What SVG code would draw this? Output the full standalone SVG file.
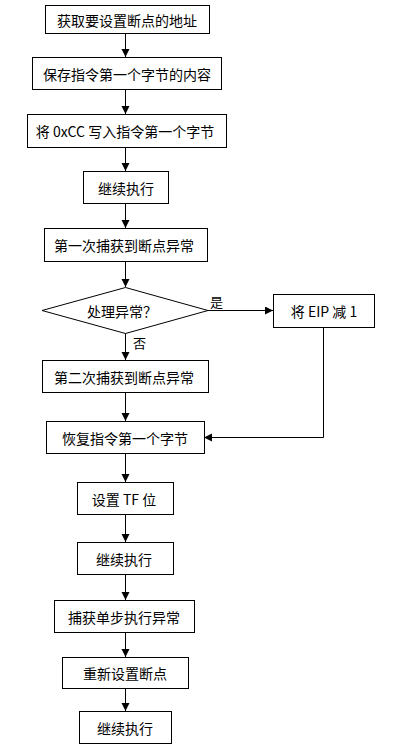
<svg xmlns="http://www.w3.org/2000/svg" width="400" height="750" viewBox="0 0 400 750">
<style>
.b{fill:#fff;stroke:#000;stroke-width:1}
.t{font-family:"Microsoft YaHei","Noto Sans CJK SC","Liberation Sans",sans-serif;font-size:14px;fill:#000;text-anchor:middle;dominant-baseline:central}
.l{font-family:"Noto Sans CJK SC","Liberation Sans",sans-serif;font-size:13px;fill:#000}
.c{fill:none;stroke:#000;stroke-width:1;marker-end:url(#a)}
</style>
<defs>
<marker id="a" markerUnits="userSpaceOnUse" markerWidth="9" markerHeight="9" refX="8" refY="4" orient="auto">
<path d="M0,0 L8,4 L0,8 z" fill="#000"/>
</marker>
</defs>
<rect width="400" height="750" fill="#fff"/>
<g id="connectors">
<line class="c" x1="125.5" y1="33" x2="125.5" y2="57"/>
<line class="c" x1="125.5" y1="89" x2="125.5" y2="114"/>
<line class="c" x1="125.5" y1="147" x2="125.5" y2="171"/>
<line class="c" x1="125.5" y1="203" x2="125.5" y2="228"/>
<line class="c" x1="125.5" y1="261" x2="125.5" y2="287"/>
<line class="c" x1="125.5" y1="333" x2="125.5" y2="360"/>
<line class="c" x1="125.5" y1="392" x2="125.5" y2="421"/>
<line class="c" x1="125.5" y1="453" x2="125.5" y2="482"/>
<line class="c" x1="125.5" y1="514" x2="125.5" y2="542"/>
<line class="c" x1="125.5" y1="574" x2="125.5" y2="600"/>
<line class="c" x1="125.5" y1="632" x2="125.5" y2="657"/>
<line class="c" x1="125.5" y1="688" x2="125.5" y2="711"/>
<line class="c" x1="208" y1="310.5" x2="273" y2="310.5"/>
<polyline class="c" points="323.5,327 323.5,437.5 204,437.5"/>
<text class="l" x="210" y="307">是</text>
<text class="l" x="133" y="348">否</text>
</g>
<g id="n1"><rect class="b" x="45.5" y="5.5" width="164" height="28"/><text class="t" x="127" y="19.5">获取要设置断点的地址</text></g>
<g id="n2"><rect class="b" x="32.5" y="57.5" width="189" height="32"/><text class="t" x="127" y="73.5">保存指令第一个字节的内容</text></g>
<g id="n3"><rect class="b" x="27.5" y="114.5" width="199" height="33"/><text class="t" x="125" y="131">将 0xCC 写入指令第一个字节</text></g>
<g id="n4"><rect class="b" x="83.5" y="171.5" width="85" height="32"/><text class="t" x="126" y="187.5">继续执行</text></g>
<g id="n5"><rect class="b" x="44.5" y="228.5" width="163" height="33"/><text class="t" x="124" y="245">第一次捕获到断点异常</text></g>
<g id="n6"><polygon class="b" points="125.5,287.5 208,310.5 125.5,333.5 42,310.5"/><text class="t" x="122" y="311">处理异常？</text></g>
<g id="n7"><rect class="b" x="273.5" y="294.5" width="101" height="33"/><text class="t" x="324" y="311">将 EIP 减 1</text></g>
<g id="n8"><rect class="b" x="42.5" y="360.5" width="166" height="32"/><text class="t" x="124" y="376.5">第二次捕获到断点异常</text></g>
<g id="n9"><rect class="b" x="46.5" y="421.5" width="158" height="32"/><text class="t" x="125" y="437.5">恢复指令第一个字节</text></g>
<g id="n10"><rect class="b" x="77.5" y="482.5" width="96" height="32"/><text class="t" x="124" y="498.5">设置 TF 位</text></g>
<g id="n11"><rect class="b" x="77.5" y="542.5" width="96" height="32"/><text class="t" x="124" y="558.5">继续执行</text></g>
<g id="n12"><rect class="b" x="54.5" y="600.5" width="140" height="32"/><text class="t" x="124" y="616.5">捕获单步执行异常</text></g>
<g id="n13"><rect class="b" x="62.5" y="657.5" width="126" height="31"/><text class="t" x="125" y="673">重新设置断点</text></g>
<g id="n14"><rect class="b" x="79.5" y="711.5" width="92" height="32"/><text class="t" x="125" y="727.5">继续执行</text></g>
</svg>
